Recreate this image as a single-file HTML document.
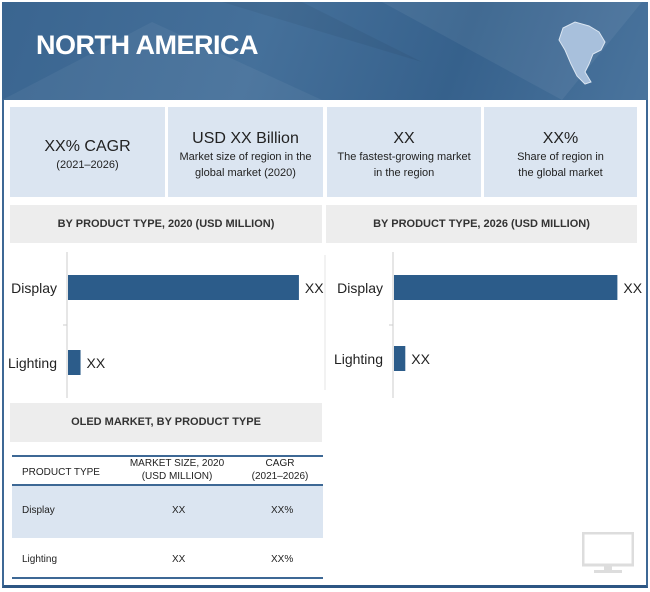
<!DOCTYPE html>
<html><head><meta charset="utf-8"><style>
*{margin:0;padding:0;box-sizing:border-box}
body{width:650px;height:592px;background:#fff;font-family:"Liberation Sans Narrow","Liberation Sans",sans-serif;position:relative;overflow:hidden;color:#222}
.abs{position:absolute}
.kpi{position:absolute;top:107px;height:90px;background:#dbe5f1;text-align:center;font-size:11px;line-height:16px;padding-top:22px}
.kpi b{display:block;font-weight:normal;font-size:16px;line-height:20px}
.sh{position:absolute;height:38px;background:#ededed;font-size:11px;font-weight:bold;text-align:center;line-height:38px;color:#333}
</style></head><body>
<div class="abs" style="left:2px;top:2px;width:646px;height:586px;border:2px solid #3d6895;border-bottom:3px solid #2d5683"></div>
<div class="abs" style="left:2px;top:2px;width:646px;height:98px;background:linear-gradient(110deg,#3a6590 0%,#45709a 40%,#36618c 70%,#4a749d 100%)">
<svg width="646" height="98" class="abs" style="left:0;top:0"><polygon points="0,98 150,20 320,98" fill="#fff" opacity="0.05"/><polygon points="380,0 560,98 640,0" fill="#fff" opacity="0.06"/><polygon points="220,0 420,60 300,0" fill="#000" opacity="0.05"/></svg>
<div class="abs" style="left:34px;top:28px;color:#fff;font-size:27px;font-weight:bold;letter-spacing:-0.5px">NORTH AMERICA</div>
<svg class="abs" style="left:553px;top:18px" width="56" height="70"><path d="M8,8 L20,2 L34,6 L44,12 L50,22 L46,30 L38,34 L34,44 L30,52 L36,62 L30,64 L22,56 L16,44 L10,30 L4,20 Z" fill="#a8c0dc" stroke="#dbe6f2" stroke-width="1"/></svg>
</div>
<div class="kpi" style="left:10px;width:155px;padding-top:30px"><b>XX% CAGR</b>(2021–2026)</div>
<div class="kpi" style="left:168px;width:155px"><b>USD XX Billion</b>Market size of region in the<br>global market (2020)</div>
<div class="kpi" style="left:327px;width:154px"><b>XX</b>The fastest-growing market<br>in the region</div>
<div class="kpi" style="left:484px;width:153px"><b>XX%</b>Share of region in<br>the global market</div>
<div class="sh" style="left:10px;top:205px;width:312px">BY PRODUCT TYPE, 2020 (USD MILLION)</div>
<div class="sh" style="left:326px;top:205px;width:311px">BY PRODUCT TYPE, 2026 (USD MILLION)</div>
<svg id="charts" class="abs" style="left:0;top:0" width="650" height="400"></svg>
<div class="sh" style="left:10px;top:403px;width:312px;height:39px;line-height:39px">OLED MARKET, BY PRODUCT TYPE</div>
<div class="abs" style="left:12px;top:455px;width:311px;height:124px;font-size:10px">
<div class="abs" style="left:0;top:0;width:311px;height:2px;background:#3d6895"></div>
<div class="abs" style="left:10px;top:6px;line-height:24px">PRODUCT TYPE</div>
<div class="abs" style="left:110px;top:0;width:110px;text-align:center;line-height:13px;padding-top:2px">MARKET SIZE, 2020<br>(USD MILLION)</div>
<div class="abs" style="left:225px;top:0;width:86px;text-align:center;line-height:13px;padding-top:2px">CAGR<br>(2021–2026)</div>
<div class="abs" style="left:0;top:29px;width:311px;height:2px;background:#3d6895"></div>
<div class="abs" style="left:0;top:31px;width:311px;height:52px;background:#dbe5f1"></div>
<div class="abs" style="left:10px;top:50px">Display</div><div class="abs" style="left:160px;top:50px">XX</div><div class="abs" style="left:259px;top:50px">XX%</div>
<div class="abs" style="left:10px;top:99px">Lighting</div><div class="abs" style="left:160px;top:99px">XX</div><div class="abs" style="left:259px;top:99px">XX%</div>
<div class="abs" style="left:0;top:122px;width:311px;height:2px;background:#3d6895"></div>
</div>
<svg class="abs" style="left:582px;top:532px" width="52" height="42"><rect x="1" y="1" width="50" height="32" fill="none" stroke="#ddd" stroke-width="3"/><rect x="22" y="33" width="8" height="5" fill="#ddd"/><rect x="12" y="38" width="28" height="3" fill="#ddd"/></svg>
<script>
const categories=["Display","Lighting"];
const values2020=[92,5];
const values2026=[89,4.5];
const valueLabels=["XX","XX"];
const svg=document.getElementById('charts');
const NS='http://www.w3.org/2000/svg';
function mk(t,a){const e=document.createElementNS(NS,t);for(const k in a)e.setAttribute(k,a[k]);svg.appendChild(e);return e;}
function chart(x0,vals,barY,name){
  const xs=v=>x0+v*2.51;
  const ax=mk('line',{x1:x0,y1:252,x2:x0,y2:398,stroke:'#ccc'});
  
  
  mk('line',{x1:x0-4,y1:325,x2:x0,y2:325,stroke:'#ccc'});
  vals.forEach((v,i)=>{
    const y=barY[i];
    const r=mk('rect',{x:x0+1,y:y,width:xs(v)-x0,height:25,fill:'#2c5c8a'});
    
    
    const t=mk('text',{x:x0-10,y:y+18,'text-anchor':'end','font-size':14,fill:'#222','font-family':'Liberation Sans Narrow, Liberation Sans, sans-serif'});
    t.textContent=categories[i];
    
    
    const l=mk('text',{x:xs(v)+7,y:y+18,'font-size':14,fill:'#222','font-family':'Liberation Sans Narrow, Liberation Sans, sans-serif'});
    l.textContent=valueLabels[i];
    
    
  });
}
chart(67,values2020,[275,350],'chart-2020');
chart(393,values2026,[275,346],'chart-2026');
mk('line',{x1:325,y1:255,x2:325,y2:390,stroke:'#e6e6e6'});
</script>
</body></html>
